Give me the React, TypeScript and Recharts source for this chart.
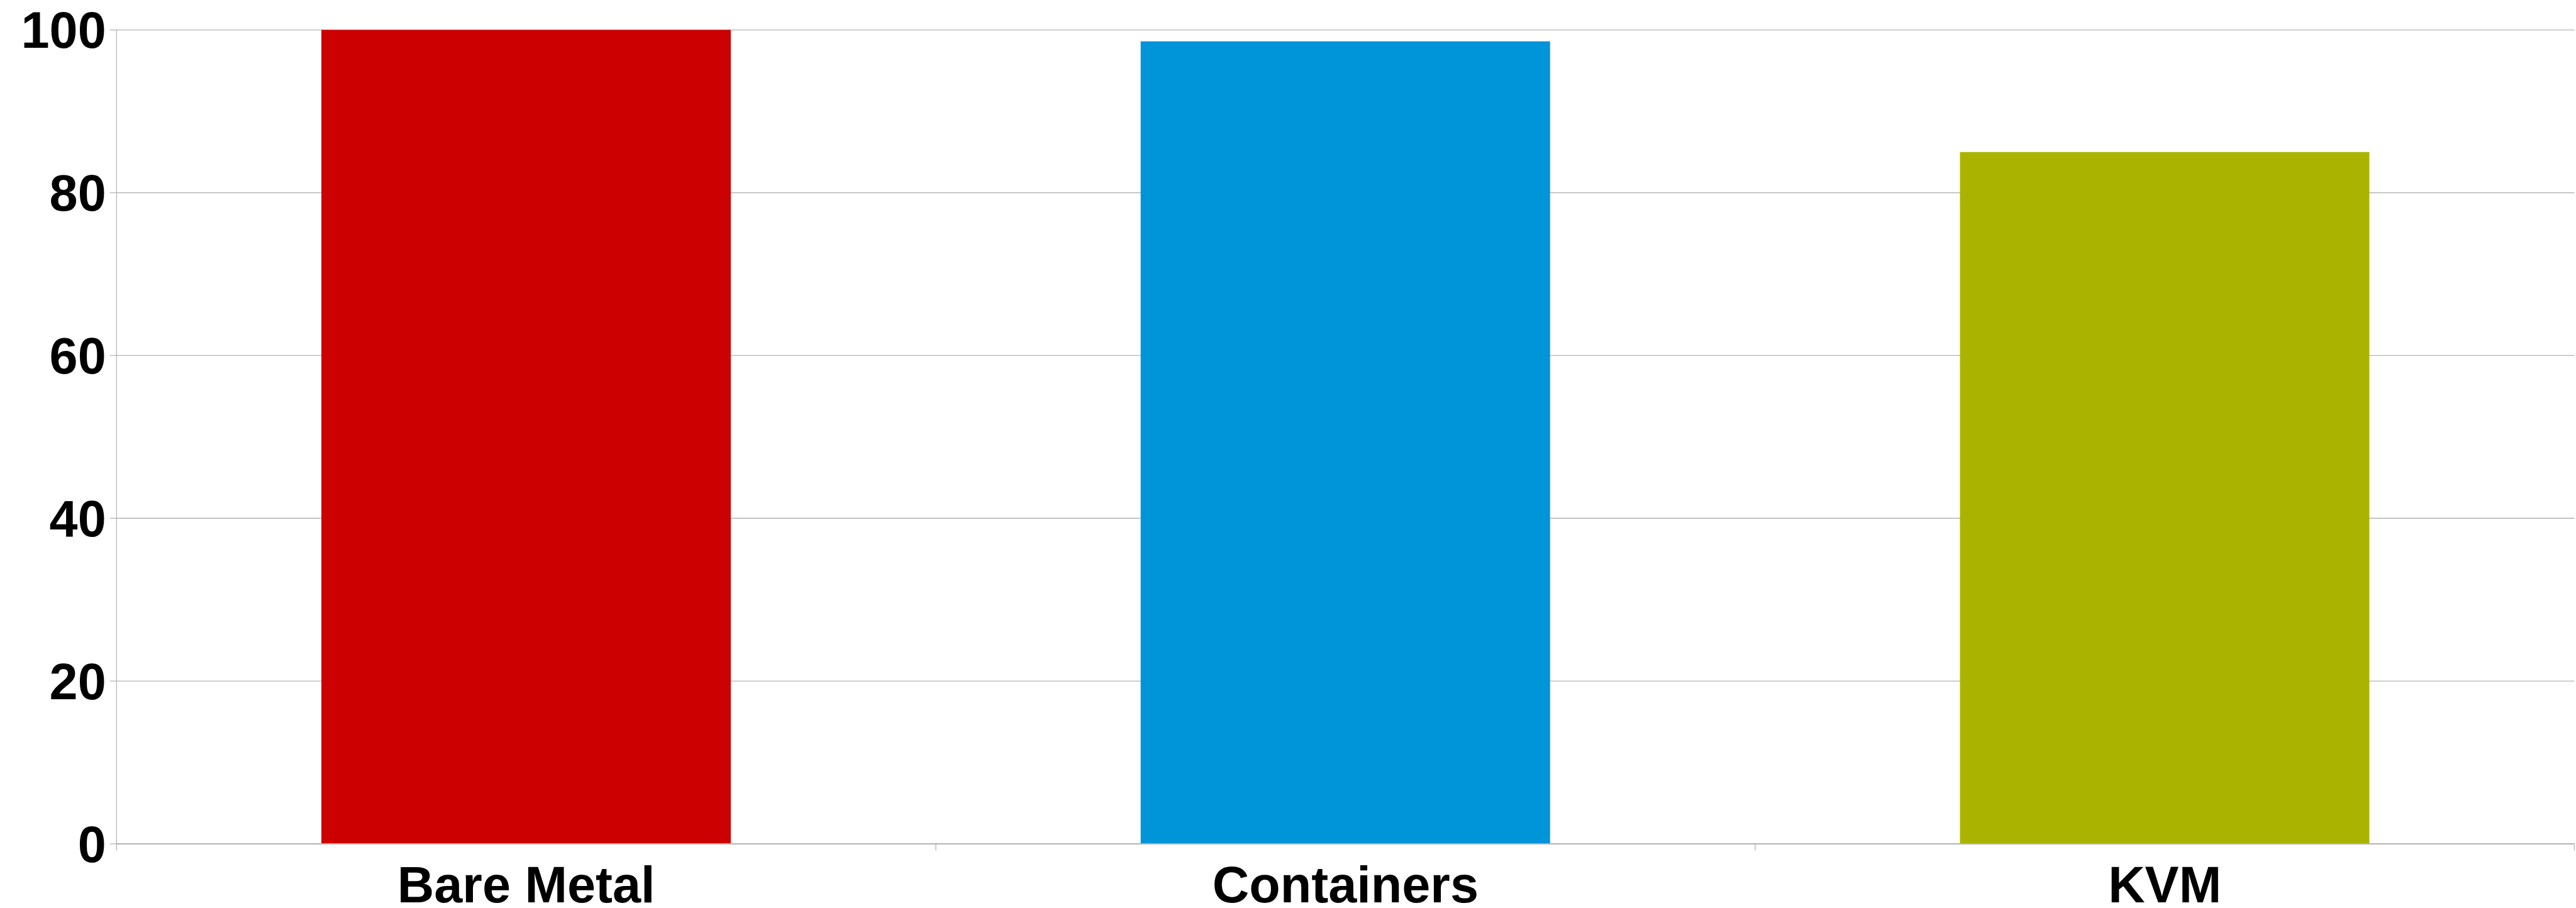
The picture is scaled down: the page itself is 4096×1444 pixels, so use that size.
import React from "react";
import { BarChart, Bar, XAxis, YAxis, CartesianGrid, Cell } from "recharts";

// Relative performance of each platform (Bare Metal = 100)
const platforms = ["Bare Metal", "Containers", "KVM"];
const scores = [100, 98.6, 85];
const barColors = ["#cc0000", "#0094d9", "#aab400"];
const yTicks = [0, 20, 40, 60, 80, 100];

const data = platforms.map((name, i) => ({ name, score: scores[i] }));

const FONT = "'Liberation Sans', Arial, sans-serif";
const FONT_SIZE = 81;
const AXIS_COLOR = "#b3b3b3";
const X_TICK_SIZE = 10.6;
const X_TICK_GAP = 25;

// Category label with tick marks on the band edges rather than the band centre.
const CategoryTick = (props: any) => {
  const { x, y, payload, index, visibleTicksCount } = props;
  const half = payload && typeof payload.offset === "number" ? payload.offset : 0;
  const axisY = y - X_TICK_SIZE - X_TICK_GAP;
  const isLast = index === (visibleTicksCount ?? platforms.length) - 1;
  return (
    <g>
      {half > 0 && (
        <line
          x1={x - half}
          x2={x - half}
          y1={axisY}
          y2={axisY + X_TICK_SIZE}
          stroke={AXIS_COLOR}
          strokeWidth={1.3}
        />
      )}
      {half > 0 && isLast && (
        <line
          x1={x + half}
          x2={x + half}
          y1={axisY}
          y2={axisY + X_TICK_SIZE}
          stroke={AXIS_COLOR}
          strokeWidth={1.3}
        />
      )}
      <text
        x={x}
        y={y}
        dy="0.71em"
        textAnchor="middle"
        fontFamily={FONT}
        fontSize={FONT_SIZE}
        fontWeight="bold"
        fill="#000"
      >
        {payload.value}
      </text>
    </g>
  );
};

export default function App() {
  return (
    <div style={{ position: "absolute", left: 0, top: 0, background: "#fff" }}>
      <BarChart
        width={4096}
        height={1444}
        data={data}
        margin={{ top: 47.6, right: 2.5, left: 0, bottom: 0 }}
        barCategoryGap="25%"
      >
        <CartesianGrid
          vertical={false}
          stroke={AXIS_COLOR}
          strokeWidth={1.3}
        />
        <XAxis
          dataKey="name"
          height={102}
          tickLine={false}
          tickSize={X_TICK_SIZE}
          tickMargin={X_TICK_GAP}
          axisLine={{ stroke: AXIS_COLOR, strokeWidth: 1.9 }}
          tick={<CategoryTick />}
          interval={0}
        />
        <YAxis
          width={185.3}
          domain={[0, 100]}
          ticks={yTicks}
          interval={0}
          tickSize={10.6}
          tickMargin={6}
          tickLine={{ stroke: AXIS_COLOR, strokeWidth: 1.3 }}
          axisLine={{ stroke: AXIS_COLOR, strokeWidth: 1.2 }}
          tick={{
            fill: "#000",
            fontSize: FONT_SIZE,
            fontWeight: "bold",
            fontFamily: FONT,
          }}
        />
        <Bar dataKey="score" isAnimationActive={false}>
          {data.map((d, i) => (
            <Cell key={d.name} fill={barColors[i]} />
          ))}
        </Bar>
      </BarChart>
    </div>
  );
}
